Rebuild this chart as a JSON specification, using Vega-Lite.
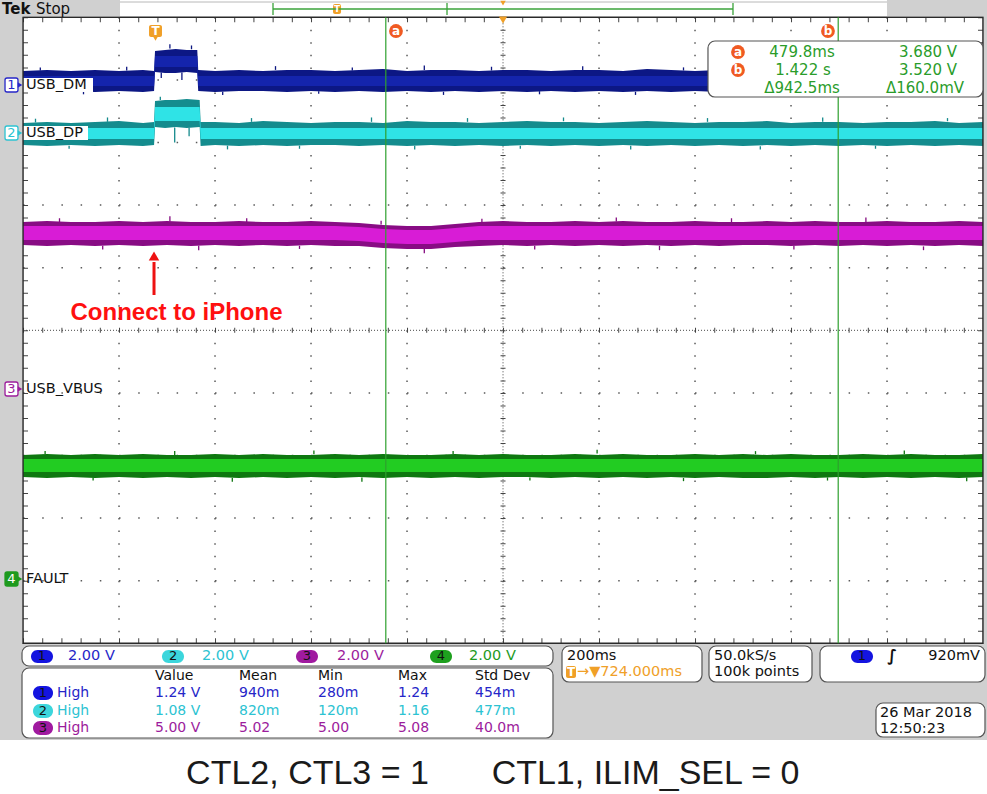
{
"$schema": "https://vega.github.io/schema/vega-lite/v6.json",
"width": 987, "height": 794, "padding": 0, "autosize": {"type": "none"},
"background": "#ffffff",
"config": {"view": {"stroke": null}},
"datasets": {
"tr": [
{"ch":"1","t":-276,"v":4.142,"v2":3.823,"cv":4.062,"cv2":3.903},
{"ch":"1","t":-226,"v":4.158,"v2":3.807,"cv":4.062,"cv2":3.903},
{"ch":"1","t":-176,"v":4.142,"v2":3.823,"cv":4.062,"cv2":3.903},
{"ch":"1","t":-126,"v":4.158,"v2":3.807,"cv":4.062,"cv2":3.903},
{"ch":"1","t":-76,"v":4.142,"v2":3.823,"cv":4.062,"cv2":3.903},
{"ch":"1","t":-26,"v":4.158,"v2":3.807,"cv":4.062,"cv2":3.903},
{"ch":"1","t":-3,"v":4.142,"v2":3.823,"cv":4.062,"cv2":3.903},
{"ch":"1","t":-1,"v":4.462,"v2":4.126,"cv":4.382,"cv2":4.206},
{"ch":"1","t":20,"v":4.478,"v2":4.110,"cv":4.382,"cv2":4.206},
{"ch":"1","t":42,"v":4.494,"v2":4.110,"cv":4.382,"cv2":4.206},
{"ch":"1","t":65,"v":4.478,"v2":4.126,"cv":4.382,"cv2":4.206},
{"ch":"1","t":87,"v":4.478,"v2":4.110,"cv":4.382,"cv2":4.206},
{"ch":"1","t":89,"v":4.158,"v2":3.823,"cv":4.062,"cv2":3.903},
{"ch":"1","t":124,"v":4.142,"v2":3.807,"cv":4.062,"cv2":3.903},
{"ch":"1","t":174,"v":4.158,"v2":3.823,"cv":4.062,"cv2":3.903},
{"ch":"1","t":224,"v":4.142,"v2":3.823,"cv":4.062,"cv2":3.903},
{"ch":"1","t":274,"v":4.158,"v2":3.807,"cv":4.062,"cv2":3.903},
{"ch":"1","t":324,"v":4.158,"v2":3.823,"cv":4.062,"cv2":3.903},
{"ch":"1","t":374,"v":4.142,"v2":3.807,"cv":4.062,"cv2":3.903},
{"ch":"1","t":424,"v":4.158,"v2":3.823,"cv":4.062,"cv2":3.903},
{"ch":"1","t":474,"v":4.174,"v2":3.807,"cv":4.062,"cv2":3.903},
{"ch":"1","t":524,"v":4.142,"v2":3.823,"cv":4.062,"cv2":3.903},
{"ch":"1","t":574,"v":4.158,"v2":3.807,"cv":4.062,"cv2":3.903},
{"ch":"1","t":624,"v":4.158,"v2":3.823,"cv":4.062,"cv2":3.903},
{"ch":"1","t":674,"v":4.142,"v2":3.807,"cv":4.062,"cv2":3.903},
{"ch":"1","t":724,"v":4.158,"v2":3.823,"cv":4.062,"cv2":3.903},
{"ch":"1","t":774,"v":4.158,"v2":3.807,"cv":4.062,"cv2":3.903},
{"ch":"1","t":824,"v":4.142,"v2":3.823,"cv":4.062,"cv2":3.903},
{"ch":"1","t":874,"v":4.158,"v2":3.807,"cv":4.062,"cv2":3.903},
{"ch":"1","t":924,"v":4.158,"v2":3.823,"cv":4.062,"cv2":3.903},
{"ch":"1","t":974,"v":4.142,"v2":3.807,"cv":4.062,"cv2":3.903},
{"ch":"1","t":1024,"v":4.174,"v2":3.823,"cv":4.062,"cv2":3.903},
{"ch":"1","t":1074,"v":4.158,"v2":3.807,"cv":4.062,"cv2":3.903},
{"ch":"1","t":1124,"v":4.142,"v2":3.823,"cv":4.062,"cv2":3.903},
{"ch":"1","t":1174,"v":4.158,"v2":3.807,"cv":4.062,"cv2":3.903},
{"ch":"1","t":1224,"v":4.158,"v2":3.823,"cv":4.062,"cv2":3.903},
{"ch":"1","t":1274,"v":4.142,"v2":3.807,"cv":4.062,"cv2":3.903},
{"ch":"1","t":1324,"v":4.158,"v2":3.823,"cv":4.062,"cv2":3.903},
{"ch":"1","t":1374,"v":4.142,"v2":3.807,"cv":4.062,"cv2":3.903},
{"ch":"1","t":1424,"v":4.158,"v2":3.823,"cv":4.062,"cv2":3.903},
{"ch":"1","t":1474,"v":4.158,"v2":3.807,"cv":4.062,"cv2":3.903},
{"ch":"1","t":1524,"v":4.142,"v2":3.823,"cv":4.062,"cv2":3.903},
{"ch":"1","t":1574,"v":4.158,"v2":3.807,"cv":4.062,"cv2":3.903},
{"ch":"1","t":1624,"v":4.158,"v2":3.823,"cv":4.062,"cv2":3.903},
{"ch":"1","t":1674,"v":4.142,"v2":3.807,"cv":4.062,"cv2":3.903},
{"ch":"1","t":1724,"v":4.158,"v2":3.823,"cv":4.062,"cv2":3.903},
{"ch":"2","t":-276,"v":3.312,"v2":2.960,"cv":3.232,"cv2":3.056},
{"ch":"2","t":-226,"v":3.328,"v2":2.944,"cv":3.232,"cv2":3.056},
{"ch":"2","t":-176,"v":3.312,"v2":2.960,"cv":3.232,"cv2":3.056},
{"ch":"2","t":-126,"v":3.328,"v2":2.944,"cv":3.232,"cv2":3.056},
{"ch":"2","t":-76,"v":3.343,"v2":2.960,"cv":3.232,"cv2":3.056},
{"ch":"2","t":-26,"v":3.312,"v2":2.944,"cv":3.232,"cv2":3.056},
{"ch":"2","t":-3,"v":3.328,"v2":2.960,"cv":3.232,"cv2":3.056},
{"ch":"2","t":-1,"v":3.663,"v2":3.248,"cv":3.567,"cv2":3.343},
{"ch":"2","t":20,"v":3.679,"v2":3.232,"cv":3.567,"cv2":3.343},
{"ch":"2","t":42,"v":3.679,"v2":3.248,"cv":3.567,"cv2":3.343},
{"ch":"2","t":65,"v":3.695,"v2":3.232,"cv":3.567,"cv2":3.343},
{"ch":"2","t":92,"v":3.679,"v2":3.248,"cv":3.567,"cv2":3.343},
{"ch":"2","t":94,"v":3.328,"v2":2.944,"cv":3.232,"cv2":3.056},
{"ch":"2","t":124,"v":3.328,"v2":2.960,"cv":3.232,"cv2":3.056},
{"ch":"2","t":174,"v":3.312,"v2":2.944,"cv":3.232,"cv2":3.056},
{"ch":"2","t":224,"v":3.343,"v2":2.960,"cv":3.232,"cv2":3.056},
{"ch":"2","t":274,"v":3.328,"v2":2.944,"cv":3.232,"cv2":3.056},
{"ch":"2","t":324,"v":3.312,"v2":2.960,"cv":3.232,"cv2":3.056},
{"ch":"2","t":374,"v":3.328,"v2":2.960,"cv":3.232,"cv2":3.056},
{"ch":"2","t":424,"v":3.328,"v2":2.944,"cv":3.232,"cv2":3.056},
{"ch":"2","t":474,"v":3.312,"v2":2.960,"cv":3.232,"cv2":3.056},
{"ch":"2","t":524,"v":3.343,"v2":2.944,"cv":3.232,"cv2":3.056},
{"ch":"2","t":574,"v":3.328,"v2":2.960,"cv":3.232,"cv2":3.056},
{"ch":"2","t":624,"v":3.328,"v2":2.944,"cv":3.232,"cv2":3.056},
{"ch":"2","t":674,"v":3.312,"v2":2.960,"cv":3.232,"cv2":3.056},
{"ch":"2","t":724,"v":3.328,"v2":2.944,"cv":3.232,"cv2":3.056},
{"ch":"2","t":774,"v":3.343,"v2":2.960,"cv":3.232,"cv2":3.056},
{"ch":"2","t":824,"v":3.328,"v2":2.944,"cv":3.232,"cv2":3.056},
{"ch":"2","t":874,"v":3.328,"v2":2.960,"cv":3.232,"cv2":3.056},
{"ch":"2","t":924,"v":3.312,"v2":2.944,"cv":3.232,"cv2":3.056},
{"ch":"2","t":974,"v":3.328,"v2":2.960,"cv":3.232,"cv2":3.056},
{"ch":"2","t":1024,"v":3.343,"v2":2.944,"cv":3.232,"cv2":3.056},
{"ch":"2","t":1074,"v":3.328,"v2":2.960,"cv":3.232,"cv2":3.056},
{"ch":"2","t":1124,"v":3.312,"v2":2.944,"cv":3.232,"cv2":3.056},
{"ch":"2","t":1174,"v":3.328,"v2":2.960,"cv":3.232,"cv2":3.056},
{"ch":"2","t":1224,"v":3.328,"v2":2.944,"cv":3.232,"cv2":3.056},
{"ch":"2","t":1274,"v":3.343,"v2":2.960,"cv":3.232,"cv2":3.056},
{"ch":"2","t":1324,"v":3.312,"v2":2.944,"cv":3.232,"cv2":3.056},
{"ch":"2","t":1374,"v":3.328,"v2":2.960,"cv":3.232,"cv2":3.056},
{"ch":"2","t":1424,"v":3.328,"v2":2.944,"cv":3.232,"cv2":3.056},
{"ch":"2","t":1474,"v":3.312,"v2":2.960,"cv":3.232,"cv2":3.056},
{"ch":"2","t":1524,"v":3.328,"v2":2.944,"cv":3.232,"cv2":3.056},
{"ch":"2","t":1574,"v":3.328,"v2":2.960,"cv":3.232,"cv2":3.056},
{"ch":"2","t":1624,"v":3.343,"v2":2.944,"cv":3.232,"cv2":3.056},
{"ch":"2","t":1674,"v":3.312,"v2":2.960,"cv":3.232,"cv2":3.056},
{"ch":"2","t":1724,"v":3.328,"v2":2.944,"cv":3.232,"cv2":3.056},
{"ch":"3","t":-276,"v":1.730,"v2":1.363,"cv":1.666,"cv2":1.443},
{"ch":"3","t":-226,"v":1.746,"v2":1.347,"cv":1.666,"cv2":1.443},
{"ch":"3","t":-176,"v":1.730,"v2":1.363,"cv":1.666,"cv2":1.443},
{"ch":"3","t":-126,"v":1.730,"v2":1.347,"cv":1.666,"cv2":1.443},
{"ch":"3","t":-76,"v":1.746,"v2":1.363,"cv":1.666,"cv2":1.443},
{"ch":"3","t":-26,"v":1.730,"v2":1.347,"cv":1.666,"cv2":1.443},
{"ch":"3","t":24,"v":1.746,"v2":1.363,"cv":1.666,"cv2":1.443},
{"ch":"3","t":74,"v":1.730,"v2":1.347,"cv":1.666,"cv2":1.443},
{"ch":"3","t":124,"v":1.730,"v2":1.363,"cv":1.666,"cv2":1.443},
{"ch":"3","t":174,"v":1.746,"v2":1.347,"cv":1.666,"cv2":1.443},
{"ch":"3","t":224,"v":1.730,"v2":1.363,"cv":1.666,"cv2":1.443},
{"ch":"3","t":274,"v":1.730,"v2":1.347,"cv":1.666,"cv2":1.443},
{"ch":"3","t":324,"v":1.746,"v2":1.363,"cv":1.666,"cv2":1.443},
{"ch":"3","t":374,"v":1.730,"v2":1.347,"cv":1.666,"cv2":1.443},
{"ch":"3","t":424,"v":1.714,"v2":1.347,"cv":1.650,"cv2":1.427},
{"ch":"3","t":474,"v":1.682,"v2":1.315,"cv":1.618,"cv2":1.395},
{"ch":"3","t":524,"v":1.666,"v2":1.299,"cv":1.602,"cv2":1.379},
{"ch":"3","t":574,"v":1.666,"v2":1.299,"cv":1.602,"cv2":1.379},
{"ch":"3","t":624,"v":1.698,"v2":1.331,"cv":1.634,"cv2":1.411},
{"ch":"3","t":674,"v":1.730,"v2":1.347,"cv":1.666,"cv2":1.443},
{"ch":"3","t":724,"v":1.746,"v2":1.363,"cv":1.666,"cv2":1.443},
{"ch":"3","t":774,"v":1.730,"v2":1.347,"cv":1.666,"cv2":1.443},
{"ch":"3","t":824,"v":1.730,"v2":1.363,"cv":1.666,"cv2":1.443},
{"ch":"3","t":874,"v":1.746,"v2":1.347,"cv":1.666,"cv2":1.443},
{"ch":"3","t":924,"v":1.730,"v2":1.363,"cv":1.666,"cv2":1.443},
{"ch":"3","t":974,"v":1.746,"v2":1.347,"cv":1.666,"cv2":1.443},
{"ch":"3","t":1024,"v":1.730,"v2":1.363,"cv":1.666,"cv2":1.443},
{"ch":"3","t":1074,"v":1.730,"v2":1.347,"cv":1.666,"cv2":1.443},
{"ch":"3","t":1124,"v":1.746,"v2":1.363,"cv":1.666,"cv2":1.443},
{"ch":"3","t":1174,"v":1.730,"v2":1.347,"cv":1.666,"cv2":1.443},
{"ch":"3","t":1224,"v":1.730,"v2":1.363,"cv":1.666,"cv2":1.443},
{"ch":"3","t":1274,"v":1.746,"v2":1.363,"cv":1.666,"cv2":1.443},
{"ch":"3","t":1324,"v":1.730,"v2":1.347,"cv":1.666,"cv2":1.443},
{"ch":"3","t":1374,"v":1.746,"v2":1.363,"cv":1.666,"cv2":1.443},
{"ch":"3","t":1424,"v":1.730,"v2":1.347,"cv":1.666,"cv2":1.443},
{"ch":"3","t":1474,"v":1.730,"v2":1.363,"cv":1.666,"cv2":1.443},
{"ch":"3","t":1524,"v":1.746,"v2":1.347,"cv":1.666,"cv2":1.443},
{"ch":"3","t":1574,"v":1.730,"v2":1.363,"cv":1.666,"cv2":1.443},
{"ch":"3","t":1624,"v":1.730,"v2":1.347,"cv":1.666,"cv2":1.443},
{"ch":"3","t":1674,"v":1.746,"v2":1.363,"cv":1.666,"cv2":1.443},
{"ch":"3","t":1724,"v":1.730,"v2":1.347,"cv":1.666,"cv2":1.443},
{"ch":"4","t":-276,"v":-1.992,"v2":-2.344,"cv":-2.056,"cv2":-2.264},
{"ch":"4","t":-226,"v":-1.976,"v2":-2.359,"cv":-2.056,"cv2":-2.264},
{"ch":"4","t":-176,"v":-1.992,"v2":-2.344,"cv":-2.056,"cv2":-2.264},
{"ch":"4","t":-126,"v":-1.976,"v2":-2.359,"cv":-2.056,"cv2":-2.264},
{"ch":"4","t":-76,"v":-1.992,"v2":-2.344,"cv":-2.056,"cv2":-2.264},
{"ch":"4","t":-26,"v":-1.976,"v2":-2.359,"cv":-2.056,"cv2":-2.264},
{"ch":"4","t":24,"v":-1.992,"v2":-2.344,"cv":-2.056,"cv2":-2.264},
{"ch":"4","t":74,"v":-1.992,"v2":-2.359,"cv":-2.056,"cv2":-2.264},
{"ch":"4","t":124,"v":-1.976,"v2":-2.344,"cv":-2.056,"cv2":-2.264},
{"ch":"4","t":174,"v":-1.992,"v2":-2.359,"cv":-2.056,"cv2":-2.264},
{"ch":"4","t":224,"v":-1.976,"v2":-2.344,"cv":-2.056,"cv2":-2.264},
{"ch":"4","t":274,"v":-1.992,"v2":-2.359,"cv":-2.056,"cv2":-2.264},
{"ch":"4","t":324,"v":-1.992,"v2":-2.344,"cv":-2.056,"cv2":-2.264},
{"ch":"4","t":374,"v":-1.976,"v2":-2.359,"cv":-2.056,"cv2":-2.264},
{"ch":"4","t":424,"v":-1.992,"v2":-2.344,"cv":-2.056,"cv2":-2.264},
{"ch":"4","t":474,"v":-1.976,"v2":-2.359,"cv":-2.056,"cv2":-2.264},
{"ch":"4","t":524,"v":-1.992,"v2":-2.344,"cv":-2.056,"cv2":-2.264},
{"ch":"4","t":574,"v":-1.992,"v2":-2.359,"cv":-2.056,"cv2":-2.264},
{"ch":"4","t":624,"v":-1.976,"v2":-2.344,"cv":-2.056,"cv2":-2.264},
{"ch":"4","t":674,"v":-1.992,"v2":-2.359,"cv":-2.056,"cv2":-2.264},
{"ch":"4","t":724,"v":-1.976,"v2":-2.344,"cv":-2.056,"cv2":-2.264},
{"ch":"4","t":774,"v":-1.992,"v2":-2.344,"cv":-2.056,"cv2":-2.264},
{"ch":"4","t":824,"v":-1.992,"v2":-2.359,"cv":-2.056,"cv2":-2.264},
{"ch":"4","t":874,"v":-1.976,"v2":-2.344,"cv":-2.056,"cv2":-2.264},
{"ch":"4","t":924,"v":-1.992,"v2":-2.359,"cv":-2.056,"cv2":-2.264},
{"ch":"4","t":974,"v":-1.976,"v2":-2.344,"cv":-2.056,"cv2":-2.264},
{"ch":"4","t":1024,"v":-1.992,"v2":-2.359,"cv":-2.056,"cv2":-2.264},
{"ch":"4","t":1074,"v":-1.992,"v2":-2.344,"cv":-2.056,"cv2":-2.264},
{"ch":"4","t":1124,"v":-1.976,"v2":-2.359,"cv":-2.056,"cv2":-2.264},
{"ch":"4","t":1174,"v":-1.992,"v2":-2.344,"cv":-2.056,"cv2":-2.264},
{"ch":"4","t":1224,"v":-1.976,"v2":-2.359,"cv":-2.056,"cv2":-2.264},
{"ch":"4","t":1274,"v":-1.992,"v2":-2.359,"cv":-2.056,"cv2":-2.264},
{"ch":"4","t":1324,"v":-1.976,"v2":-2.344,"cv":-2.056,"cv2":-2.264},
{"ch":"4","t":1374,"v":-1.992,"v2":-2.359,"cv":-2.056,"cv2":-2.264},
{"ch":"4","t":1424,"v":-1.992,"v2":-2.344,"cv":-2.056,"cv2":-2.264},
{"ch":"4","t":1474,"v":-1.976,"v2":-2.359,"cv":-2.056,"cv2":-2.264},
{"ch":"4","t":1524,"v":-1.992,"v2":-2.344,"cv":-2.056,"cv2":-2.264},
{"ch":"4","t":1574,"v":-1.976,"v2":-2.359,"cv":-2.056,"cv2":-2.264},
{"ch":"4","t":1624,"v":-1.992,"v2":-2.344,"cv":-2.056,"cv2":-2.264},
{"ch":"4","t":1674,"v":-1.992,"v2":-2.359,"cv":-2.056,"cv2":-2.264},
{"ch":"4","t":1724,"v":-1.976,"v2":-2.344,"cv":-2.056,"cv2":-2.264}
],
"sp": [
{"ch":"1","t":-240,"v":4.15,"v2":4.20},{"ch":"1","t":-150,"v":3.82,"v2":3.77},{"ch":"1","t":-60,"v":4.15,"v2":4.21},
{"ch":"1","t":30,"v":4.50,"v2":4.57},{"ch":"1","t":55,"v":4.12,"v2":4.00},{"ch":"1","t":75,"v":4.49,"v2":4.55},{"ch":"1","t":12,"v":4.12,"v2":4.03},
{"ch":"1","t":140,"v":3.81,"v2":3.76},{"ch":"1","t":250,"v":4.16,"v2":4.22},{"ch":"1","t":340,"v":3.82,"v2":3.78},
{"ch":"1","t":410,"v":4.15,"v2":4.20},{"ch":"1","t":560,"v":4.16,"v2":4.23},{"ch":"1","t":600,"v":3.81,"v2":3.76},
{"ch":"1","t":700,"v":4.15,"v2":4.21},{"ch":"1","t":800,"v":3.82,"v2":3.77},{"ch":"1","t":890,"v":4.16,"v2":4.22},
{"ch":"1","t":1000,"v":3.81,"v2":3.76},{"ch":"1","t":1100,"v":4.15,"v2":4.20},
{"ch":"2","t":-250,"v":3.32,"v2":3.38},{"ch":"2","t":-180,"v":2.95,"v2":2.90},{"ch":"2","t":-100,"v":3.33,"v2":3.40},
{"ch":"2","t":10,"v":3.68,"v2":3.73},{"ch":"2","t":40,"v":3.24,"v2":3.00},{"ch":"2","t":70,"v":3.24,"v2":3.10},
{"ch":"2","t":150,"v":2.95,"v2":2.89},{"ch":"2","t":200,"v":3.33,"v2":3.39},{"ch":"2","t":300,"v":2.95,"v2":2.90},
{"ch":"2","t":450,"v":3.33,"v2":3.40},{"ch":"2","t":540,"v":2.95,"v2":2.89},{"ch":"2","t":650,"v":3.33,"v2":3.39},
{"ch":"2","t":760,"v":2.95,"v2":2.90},{"ch":"2","t":850,"v":3.34,"v2":3.40},{"ch":"2","t":990,"v":2.95,"v2":2.89},
{"ch":"2","t":1150,"v":3.33,"v2":3.39},{"ch":"2","t":1260,"v":2.94,"v2":2.89},{"ch":"2","t":1390,"v":3.33,"v2":3.40},
{"ch":"2","t":1500,"v":2.95,"v2":2.90},{"ch":"2","t":1650,"v":3.34,"v2":3.39},
{"ch":"3","t":-200,"v":1.73,"v2":1.79},{"ch":"3","t":-110,"v":1.35,"v2":1.29},{"ch":"3","t":30,"v":1.74,"v2":1.82},
{"ch":"3","t":90,"v":1.35,"v2":1.28},{"ch":"3","t":190,"v":1.73,"v2":1.79},{"ch":"3","t":300,"v":1.35,"v2":1.30},
{"ch":"3","t":470,"v":1.69,"v2":1.75},{"ch":"3","t":560,"v":1.30,"v2":1.23},{"ch":"3","t":680,"v":1.72,"v2":1.78},
{"ch":"3","t":790,"v":1.35,"v2":1.29},{"ch":"3","t":960,"v":1.74,"v2":1.80},{"ch":"3","t":1050,"v":1.35,"v2":1.28},
{"ch":"3","t":1200,"v":1.73,"v2":1.79},{"ch":"3","t":1330,"v":1.35,"v2":1.29},{"ch":"3","t":1480,"v":1.73,"v2":1.80},
{"ch":"3","t":1600,"v":1.34,"v2":1.28},
{"ch":"4","t":-230,"v":-1.98,"v2":-1.93},{"ch":"4","t":-130,"v":-2.35,"v2":-2.40},{"ch":"4","t":40,"v":-1.99,"v2":-1.93},
{"ch":"4","t":160,"v":-2.36,"v2":-2.42},{"ch":"4","t":330,"v":-1.98,"v2":-1.92},{"ch":"4","t":430,"v":-2.35,"v2":-2.42},
{"ch":"4","t":620,"v":-1.98,"v2":-1.93},{"ch":"4","t":780,"v":-2.35,"v2":-2.40},{"ch":"4","t":920,"v":-1.97,"v2":-1.91},
{"ch":"4","t":1100,"v":-2.36,"v2":-2.41},{"ch":"4","t":1250,"v":-1.98,"v2":-1.93},{"ch":"4","t":1400,"v":-2.35,"v2":-2.40},
{"ch":"4","t":1560,"v":-1.98,"v2":-1.92},{"ch":"4","t":1690,"v":-2.35,"v2":-2.41}
]
},
"encoding": {
"x": {"field":"t","type":"quantitative","scale":{"domain":[-323.96,1732.29],"nice":false,"zero":false},"axis":null},
"y": {"field":"v","type":"quantitative","scale":{"domain":[-7.4073,5.2764],"nice":false,"zero":false},"axis":null}
},
"resolve": {"scale": {"color": "independent", "fill": "independent", "stroke": "independent"}},
"layer": [
{"data":{"values":[
{"t":-323.96,"t2":-278.1,"v":5.2764,"v2":-6.5447},
{"t":-323.96,"t2":-74.0,"v":5.2764,"v2":5.0208},
{"t":1523.9,"t2":1732.29,"v":5.2764,"v2":5.0208},
{"t":-323.96,"t2":1732.29,"v":-5.0,"v2":-6.5447},
{"t":1725.5,"t2":1732.29,"v":5.0208,"v2":-6.5447}]},
"mark":{"type":"rect","color":"#d0d0d0"},
"encoding":{"x2":{"field":"t2"},"y2":{"field":"v2"}}},
{"data":{"values":[{"t":-74.0,"t2":1523.9,"v":5.2444}]},
"mark":{"type":"rule","color":"#b8b8b8","strokeWidth":1},
"encoding":{"x2":{"field":"t2"}}},
{"data":{"values":[{"t":-76,"v":5,"v2":-5},{"t":124,"v":5,"v2":-5},{"t":324,"v":5,"v2":-5},{"t":524,"v":5,"v2":-5},{"t":924,"v":5,"v2":-5},{"t":1124,"v":5,"v2":-5},{"t":1324,"v":5,"v2":-5},{"t":1524,"v":5,"v2":-5}]},
"mark":{"type":"rule","color":"#5a5a5a","strokeWidth":1.5,"strokeDash":[1.5,11.02]},
"encoding":{"y2":{"field":"v2"}}},
{"data":{"values":[{"t":-276,"t2":1723.9,"v":4},{"t":-276,"t2":1723.9,"v":3},{"t":-276,"t2":1723.9,"v":2},{"t":-276,"t2":1723.9,"v":1},{"t":-276,"t2":1723.9,"v":-1},{"t":-276,"t2":1723.9,"v":-2},{"t":-276,"t2":1723.9,"v":-3},{"t":-276,"t2":1723.9,"v":-4}]},
"mark":{"type":"rule","color":"#5a5a5a","strokeWidth":1.5,"strokeDash":[1.5,17.7]},
"encoding":{"x2":{"field":"t2"}}},
{"data":{"values":[{"t":724,"v":5,"v2":-5}]},
"mark":{"type":"rule","color":"#444444","strokeWidth":1,"strokeDash":[1,2]},
"encoding":{"y2":{"field":"v2"}}},
{"data":{"values":[{"t":724,"v":5,"v2":-5},{"t":-270.8,"v":5,"v2":-5},{"t":1718.75,"v":5,"v2":-5}]},
"mark":{"type":"rule","color":"#444444","strokeWidth":5,"strokeDash":[1,11.52]},
"encoding":{"y2":{"field":"v2"}}},
{"data":{"values":[{"t":-276,"t2":1723.9,"v":0}]},
"mark":{"type":"rule","color":"#444444","strokeWidth":1,"strokeDash":[1,2]},
"encoding":{"x2":{"field":"t2"}}},
{"data":{"values":[{"t":-276,"t2":1723.9,"v":0},{"t":-276,"t2":1723.9,"v":4.9601},{"t":-276,"t2":1723.9,"v":-4.9601}]},
"mark":{"type":"rule","color":"#444444","strokeWidth":5,"strokeDash":[1,18.2]},
"encoding":{"x2":{"field":"t2"}}},
{"data":{"name":"sp"},
"mark":{"type":"rule","strokeWidth":1.3},
"encoding":{"y2":{"field":"v2"},
"color":{"field":"ch","type":"nominal","scale":{"domain":["1","2","3","4"],"range":["#0c1680","#148a8c","#850b80","#0e7510"]},"legend":null}}},
{"data":{"name":"tr"},
"mark":{"type":"area","interpolate":"linear"},
"encoding":{"y":{"field":"v","type":"quantitative","stack":null,"scale":{"domain":[-7.4073,5.2764],"nice":false,"zero":false},"axis":null},"y2":{"field":"v2"},
"color":{"field":"ch","type":"nominal","scale":{"domain":["1","2","3","4"],"range":["#0c1784","#148c8e","#880c84","#0e7810"]},"legend":null}}},
{"data":{"name":"tr"},
"mark":{"type":"area","interpolate":"linear"},
"encoding":{"y":{"field":"cv","type":"quantitative","stack":null,"scale":{"domain":[-7.4073,5.2764],"nice":false,"zero":false},"axis":null},"y2":{"field":"cv2"},
"color":{"field":"ch","type":"nominal","scale":{"domain":["1","2","3","4"],"range":["#1424ac","#2fe3e6","#d81cd6","#22cc22"]},"legend":null}}},
{"data":{"values":[{"t":-276,"t2":-130.2,"v":4.0304,"v2":3.8067},{"t":-276,"t2":-140.6,"v":3.2636,"v2":3.0399}]},
"mark":{"type":"rect","color":"#ffffff"},
"encoding":{"x2":{"field":"t2"},"y2":{"field":"v2"}}},
{"data":{"values":[{"t":-276,"t2":1723.9,"v":5,"v2":-5}]},
"mark":{"type":"rect","filled":false,"stroke":"#2a2a2a","strokeWidth":1.5},
"encoding":{"x2":{"field":"t2"},"y2":{"field":"v2"}}},
{"data":{"values":[{"ch":"1","t":-313.5,"t2":-286.5,"v":4.0304,"v2":3.8067},{"ch":"2","t":-313.5,"t2":-286.5,"v":3.2636,"v2":3.0399},{"ch":"3","t":-313.5,"t2":-286.5,"v":-0.8259,"v2":-1.0495},{"ch":"4","t":-313.5,"t2":-286.5,"v":-3.861,"v2":-4.0847}]},
"mark":{"type":"rect","strokeWidth":1.3,"cornerRadius":2},
"encoding":{"x2":{"field":"t2"},"y2":{"field":"v2"},
"fill":{"field":"ch","type":"nominal","scale":{"domain":["1","2","3","4"],"range":["#ffffff","#ffffff","#ffffff","#1e9a1e"]},"legend":null},
"stroke":{"field":"ch","type":"nominal","scale":{"domain":["1","2","3","4"],"range":["#2626c8","#2cc3d2","#9c1c9c","#1e9a1e"]},"legend":null}}},
{"data":{"values":[{"ch":"1","t":-282.3,"v":3.9185},{"ch":"2","t":-282.3,"v":3.1518},{"ch":"3","t":-282.3,"v":-0.9377},{"ch":"4","t":-282.3,"v":-3.9728}]},
"mark":{"type":"point","shape":"triangle-right","filled":true,"size":28,"opacity":1},
"encoding":{"color":{"field":"ch","type":"nominal","scale":{"domain":["1","2","3","4"],"range":["#2626c8","#2cc3d2","#9c1c9c","#1e9a1e"]},"legend":null}}},
{"data":{"values":[{"s":"1","k":"b1","t":-300.0,"v":3.9185},{"s":"2","k":"c2","t":-300.0,"v":3.1518},{"s":"3","k":"p3","t":-300.0,"v":-0.9377},{"s":"4","k":"w","t":-300.0,"v":-3.9728}]},
"mark":{"type":"text","font":"DejaVu Sans","fontSize":13,"align":"center","baseline":"middle"},
"encoding":{"text":{"field":"s"},"color":{"field":"k","type":"nominal","scale":{"domain":["b1","c2","p3","g4","k","g","o","w","r"],"range":["#2626c8","#2cc3d2","#9c1c9c","#1e9a1e","#111111","#2a9c2a","#f0a028","#ffffff","#ee1111"]},"legend":null}}},
{"data":{"values":[{"t":479.8,"v":5,"v2":-5},{"t":1422.3,"v":5,"v2":-5}]},
"mark":{"type":"rule","color":"#2ea02e","strokeWidth":1.2},
"encoding":{"y2":{"field":"v2"}}},
{"data":{"values":[{"t":1151.0,"t2":1723.9,"v":4.6214,"v2":3.7268},
{"t":-278.1,"t2":828.1,"v":-5.0431,"v2":-5.3626},
{"t":-278.1,"t2":828.1,"v":-5.3946,"v2":-6.5128},
{"t":846.9,"t2":1138.5,"v":-5.0431,"v2":-5.6182},
{"t":1153.1,"t2":1367.7,"v":-5.0431,"v2":-5.6182},
{"t":1384.4,"t2":1728.1,"v":-5.0431,"v2":-5.6182},
{"t":1501.0,"t2":1728.1,"v":-5.9537,"v2":-6.4968}]},
"mark":{"type":"rect","fill":"#ffffff","stroke":"#555555","strokeWidth":1.2,"cornerRadius":7},
"encoding":{"x2":{"field":"t2"},"y2":{"field":"v2"}}},
{"data":{"values":[
{"ch":"1","t":-259.4,"t2":-213.5,"v":-5.107,"v2":-5.3147},
{"ch":"2","t":13.5,"t2":59.4,"v":-5.107,"v2":-5.3147},
{"ch":"3","t":292.7,"t2":338.5,"v":-5.107,"v2":-5.3147},
{"ch":"4","t":571.9,"t2":617.7,"v":-5.107,"v2":-5.3147},
{"ch":"1","t":-255.2,"t2":-213.5,"v":-5.6821,"v2":-5.9058},
{"ch":"2","t":-255.2,"t2":-213.5,"v":-5.9696,"v2":-6.1933},
{"ch":"3","t":-255.2,"t2":-213.5,"v":-6.2412,"v2":-6.4649},
{"ch":"1","t":1449.0,"t2":1494.8,"v":-5.107,"v2":-5.3147}]},
"mark":{"type":"rect","cornerRadius":7},
"encoding":{"x2":{"field":"t2"},"y2":{"field":"v2"},
"color":{"field":"ch","type":"nominal","scale":{"domain":["1","2","3","4"],"range":["#1414e0","#3cd6dc","#a01aa0","#1ea01e"]},"legend":null}}},
{"data":{"values":[{"t":-13.5,"t2":13.5,"v":4.877,"v2":4.6853},{"t":855.2,"t2":876.0,"v":-5.3626,"v2":-5.5543},{"t":369.8,"t2":386.5,"v":5.2125,"v2":5.0527}]},
"mark":{"type":"rect","color":"#f0a028","cornerRadius":2},
"encoding":{"x2":{"field":"t2"},"y2":{"field":"v2"}}},
{"data":{"values":[{"t":724,"v":4.9569,"sz":"big"},{"t":724,"v":5.2284,"sz":"small"},{"t":0,"v":4.665,"sz":"small"}]},
"mark":{"type":"point","shape":"triangle-down","filled":true,"color":"#f0a028","opacity":1},
"encoding":{"size":{"field":"sz","type":"nominal","scale":{"domain":["big","small"],"range":[70,30]},"legend":null}}},
{"data":{"values":[{"t":244.8,"t2":1203.1,"v":5.1326}]},
"mark":{"type":"rule","color":"#3aa33a","strokeWidth":1.3},
"encoding":{"x2":{"field":"t2"}}},
{"data":{"values":[{"t":244.8,"v":5.2284,"v2":5.0367},{"t":607.3,"v":5.2284,"v2":5.0367},{"t":1203.1,"v":5.2284,"v2":5.0367}]},
"mark":{"type":"rule","color":"#3aa33a","strokeWidth":1.3},
"encoding":{"y2":{"field":"v2"}}},
{"data":{"values":[{"t":501.0,"v":4.7811},{"t":1401.0,"v":4.7811},{"t":1213.5,"v":4.4457},{"t":1213.5,"v":4.1581}]},
"mark":{"type":"point","shape":"circle","filled":true,"color":"#f05a22","size":190,"opacity":1}},
{"data":{"values":[{"s":"a","t":501.0,"v":4.7811},{"s":"b","t":1401.0,"v":4.7811},{"s":"a","t":1213.5,"v":4.4457},{"s":"b","t":1213.5,"v":4.1581},{"s":"T","t":0,"v":4.7811},{"s":"T","t":865.6,"v":-5.4585}]},
"mark":{"type":"text","font":"DejaVu Sans","fontSize":12,"fontWeight":"bold","align":"center","baseline":"middle","color":"#ffffff"},
"encoding":{"text":{"field":"s"}}},
{"data":{"values":[{"t":-3.1,"v":0.5639,"v2":1.0911}]},
"mark":{"type":"rule","color":"#ee1111","strokeWidth":3},
"encoding":{"y2":{"field":"v2"}}},
{"data":{"values":[{"t":-3.1,"v":1.1869}]},
"mark":{"type":"point","shape":"triangle-up","filled":true,"color":"#ee1111","size":110,"opacity":1}},
{"data":{"values":[{"s":"Connect to iPhone","t":43.75,"v":0.2764}]},
"mark":{"type":"text","font":"Liberation Sans","fontSize":24,"fontWeight":"bold","align":"center","baseline":"middle","color":"#ff1010"},
"encoding":{"text":{"field":"s"}}},
{"data":{"values":[
{"s":"USB_DM","k":"k","t":-269.8,"v":3.9185},
{"s":"USB_DP","k":"k","t":-269.8,"v":3.1518},
{"s":"USB_VBUS","k":"k","t":-269.8,"v":-0.9377},
{"s":"FAULT","k":"k","t":-269.8,"v":-3.9728},
{"s":"2.00 V","k":"b1","t":-182.3,"v":-5.2029},
{"s":"2.00 V","k":"c2","t":96.9,"v":-5.2029},
{"s":"2.00 V","k":"p3","t":378.1,"v":-5.2029},
{"s":"2.00 V","k":"g4","t":653.1,"v":-5.2029},
{"s":"200ms","k":"k","t":857.3,"v":-5.2029},
{"s":"→▼724.000ms","k":"o","t":878.1,"v":-5.4585},
{"s":"50.0kS/s","k":"k","t":1163.5,"v":-5.2029},
{"s":"100k points","k":"k","t":1163.5,"v":-5.4585},
{"s":"26 Mar 2018","k":"k","t":1509.4,"v":-6.1134},
{"s":"12:50:23","k":"k","t":1509.4,"v":-6.369}]},
"mark":{"type":"text","font":"DejaVu Sans","fontSize":14.5,"align":"left","baseline":"middle"},
"encoding":{"text":{"field":"s"},"color":{"field":"k","type":"nominal","scale":{"domain":["b1","c2","p3","g4","k","g","o","w","r"],"range":["#2626c8","#2cc3d2","#9c1c9c","#1e9a1e","#111111","#2a9c2a","#f0a028","#ffffff","#ee1111"]},"legend":null}}},
{"data":{"values":[
{"s":"Value","k":"k","t":-1.0,"v":-5.5224},
{"s":"Mean","k":"k","t":174.0,"v":-5.5224},
{"s":"Min","k":"k","t":338.5,"v":-5.5224},
{"s":"Max","k":"k","t":505.2,"v":-5.5224},
{"s":"Std Dev","k":"k","t":665.6,"v":-5.5224},
{"s":"High","k":"b1","t":-205.2,"v":-5.7939},
{"s":"1.24 V","k":"b1","t":-1.0,"v":-5.7939},
{"s":"940m","k":"b1","t":174.0,"v":-5.7939},
{"s":"280m","k":"b1","t":338.5,"v":-5.7939},
{"s":"1.24","k":"b1","t":505.2,"v":-5.7939},
{"s":"454m","k":"b1","t":665.6,"v":-5.7939},
{"s":"High","k":"c2","t":-205.2,"v":-6.0815},
{"s":"1.08 V","k":"c2","t":-1.0,"v":-6.0815},
{"s":"820m","k":"c2","t":174.0,"v":-6.0815},
{"s":"120m","k":"c2","t":338.5,"v":-6.0815},
{"s":"1.16","k":"c2","t":505.2,"v":-6.0815},
{"s":"477m","k":"c2","t":665.6,"v":-6.0815},
{"s":"High","k":"p3","t":-205.2,"v":-6.353},
{"s":"5.00 V","k":"p3","t":-1.0,"v":-6.353},
{"s":"5.02","k":"p3","t":174.0,"v":-6.353},
{"s":"5.00","k":"p3","t":338.5,"v":-6.353},
{"s":"5.08","k":"p3","t":505.2,"v":-6.353},
{"s":"40.0m","k":"p3","t":665.6,"v":-6.353}]},
"mark":{"type":"text","font":"DejaVu Sans","fontSize":14,"align":"left","baseline":"middle"},
"encoding":{"text":{"field":"s"},"color":{"field":"k","type":"nominal","scale":{"domain":["b1","c2","p3","g4","k","g","o","w","r"],"range":["#2626c8","#2cc3d2","#9c1c9c","#1e9a1e","#111111","#2a9c2a","#f0a028","#ffffff","#ee1111"]},"legend":null}}},
{"data":{"values":[
{"s":"479.8ms","t":1346.9,"v":4.4457},
{"s":"3.680 V","t":1609.4,"v":4.4457},
{"s":"1.422 s","t":1349.0,"v":4.1581},
{"s":"3.520 V","t":1609.4,"v":4.1581},
{"s":"Δ942.5ms","t":1346.9,"v":3.8706},
{"s":"Δ160.0mV","t":1603.1,"v":3.8706}]},
"mark":{"type":"text","font":"DejaVu Sans","fontSize":15,"align":"center","baseline":"middle","color":"#2a9c2a"},
"encoding":{"text":{"field":"s"}}},
{"data":{"values":[
{"s":"1","t":-236.5,"v":-5.2029},{"s":"2","t":36.5,"v":-5.2029},{"s":"3","t":315.6,"v":-5.2029},{"s":"4","t":594.8,"v":-5.2029},
{"s":"1","t":-234.4,"v":-5.7939},{"s":"2","t":-234.4,"v":-6.0815},{"s":"3","t":-234.4,"v":-6.353},{"s":"1","t":1471.9,"v":-5.2029}]},
"mark":{"type":"text","font":"DejaVu Sans","fontSize":13,"align":"center","baseline":"middle","color":"#111111"},
"encoding":{"text":{"field":"s"}}},
{"data":{"values":[{"s":"∫","t":1534.4,"v":-5.2029}]},
"mark":{"type":"text","font":"DejaVu Sans","fontSize":16,"fontWeight":"bold","align":"center","baseline":"middle","color":"#111111"},
"encoding":{"text":{"field":"s"}}},
{"data":{"values":[{"s":"920mV","t":1717.7,"v":-5.2029}]},
"mark":{"type":"text","font":"DejaVu Sans","fontSize":14.5,"align":"right","baseline":"middle","color":"#111111"},
"encoding":{"text":{"field":"s"}}},
{"data":{"values":[{"s":"T","t":378.1,"v":5.1326}]},
"mark":{"type":"text","font":"DejaVu Sans","fontSize":9,"fontWeight":"bold","align":"center","baseline":"middle","color":"#ffffff"},
"encoding":{"text":{"field":"s"}}},
{"data":{"values":[{"s":"Tek","t":-319.8,"v":5.1326}]},
"mark":{"type":"text","font":"DejaVu Sans","fontSize":15,"fontWeight":"bold","align":"left","baseline":"middle","color":"#111111"},
"encoding":{"text":{"field":"s"}}},
{"data":{"values":[{"s":"Stop","t":-249.0,"v":5.1326}]},
"mark":{"type":"text","font":"DejaVu Sans","fontSize":15,"align":"left","baseline":"middle","color":"#111111"},
"encoding":{"text":{"field":"s"}}},
{"data":{"values":[{"s":"CTL2, CTL3 = 1","t":316.7,"v":-7.0879},{"s":"CTL1, ILIM_SEL = 0","t":1020.8,"v":-7.0879}]},
"mark":{"type":"text","font":"Liberation Sans","fontSize":34,"align":"center","baseline":"middle","color":"#1a1a1a"},
"encoding":{"text":{"field":"s"}}}
]
}
